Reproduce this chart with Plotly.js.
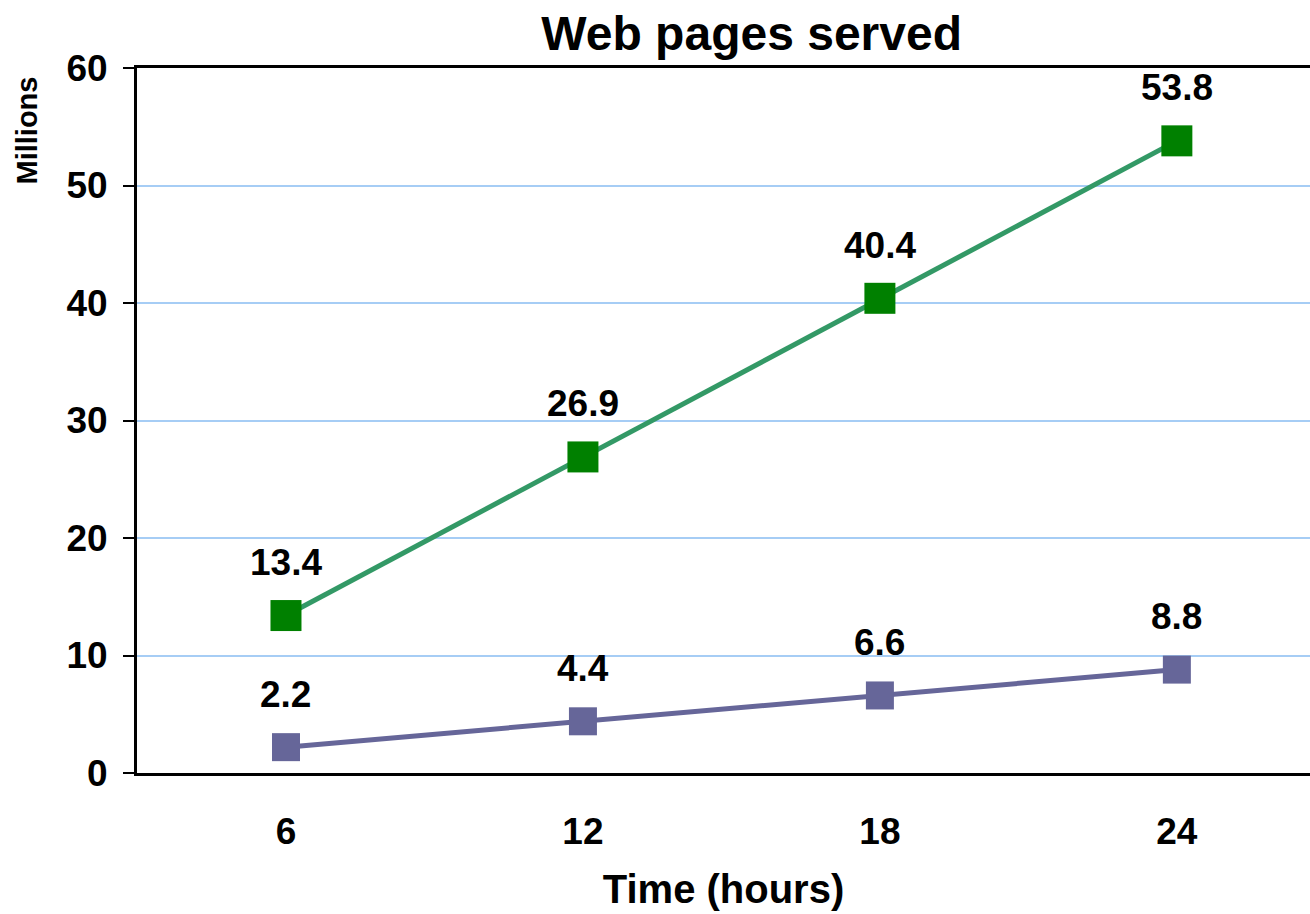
<!DOCTYPE html>
<html>
<head>
<meta charset="utf-8">
<script src="https://cdn.plot.ly/plotly-3.0.1.min.js"></script>
<style>html,body{margin:0;padding:0;background:#fff}#chart{width:1310px;height:914px}</style>
</head>
<body>
<div id="chart"></div>
<script>
const hours = [6, 12, 18, 24];
const seriesTop = [13.4, 26.9, 40.4, 53.8];
const seriesBottom = [2.2, 4.4, 6.6, 8.8];
const yTicks = [0, 10, 20, 30, 40, 50, 60];
const chartTitle = "Web pages served";
const xTitle = "Time (hours)";
const yTitle = "Millions";

const font = "Arial, 'Liberation Sans', sans-serif";

const traces = [
  {
    x: hours, y: seriesTop, type: "scatter", mode: "lines+markers",
    line: {color: "#339966", width: 5},
    marker: {symbol: "square", size: 31, color: "#008000"},
    hoverinfo: "skip"
  },
  {
    x: hours, y: seriesBottom, type: "scatter", mode: "lines+markers",
    line: {color: "#666699", width: 5},
    marker: {symbol: "square", size: 28, color: "#666699"},
    hoverinfo: "skip"
  }
];

const labelAnns = [];
[seriesTop, seriesBottom].forEach(s => {
  s.forEach((v, i) => {
    labelAnns.push({
      x: hours[i], y: v, xref: "x", yref: "y", text: v.toFixed(1),
      showarrow: false, yshift: 53,
      font: {family: font, size: 37, color: "#000", weight: "bold"}
    });
  });
});

labelAnns.push({
  xref: "paper", yref: "paper", x: -0.094, y: 0.911, xanchor: "center", yanchor: "middle",
  text: yTitle, textangle: -90, showarrow: false,
  font: {family: font, size: 29, color: "#000", weight: "bold"}
});

const layout = {
  width: 1310, height: 914,
  margin: {l: 137, r: 0, t: 68, b: 141},
  paper_bgcolor: "#fff", plot_bgcolor: "#fff",
  showlegend: false,
  title: {
    text: chartTitle, x: 0.524, xref: "paper", xanchor: "center",
    y: 1 - 33/914, yref: "container", yanchor: "middle",
    font: {family: font, size: 48, color: "#000", weight: "bold"}
  },
  xaxis: {
    range: [2.99, 26.69], tickvals: hours, ticktext: hours.map(String),
    showgrid: false, zeroline: false,
    showline: true, linecolor: "#000", linewidth: 3, mirror: true,
    ticks: "", ticklabelstandoff: 24,
    tickfont: {family: font, size: 37, color: "#000", weight: "bold"},
    title: {text: xTitle, standoff: 24, font: {family: font, size: 40, color: "#000", weight: "bold"}}
  },
  yaxis: {
    range: [0, 60], tickvals: yTicks,
    showgrid: true, gridcolor: "#a6cdf5", gridwidth: 2,
    zeroline: false,
    showline: true, linecolor: "#000", linewidth: 3,
    ticks: "outside", ticklen: 11, tickwidth: 2, tickcolor: "#000",
    ticklabelstandoff: 8,
    tickfont: {family: font, size: 37, color: "#000", weight: "bold"}
  },
  annotations: labelAnns
};

Plotly.newPlot("chart", traces, layout, {displayModeBar: false, staticPlot: true});
</script>
</body>
</html>
